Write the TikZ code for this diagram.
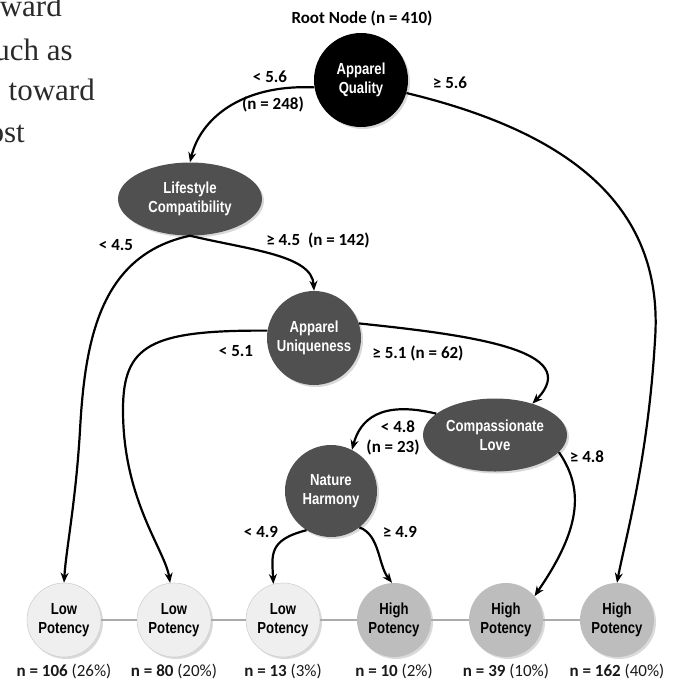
\documentclass[tikz,border=0pt]{standalone}
\usepackage{fontspec}
\setmainfont{Carlito}
\newfontfamily\nodefont[FakeStretch=0.82]{Liberation Sans}
\newfontfamily\bodyfont{Liberation Serif}
\usetikzlibrary{shapes.geometric,arrows.meta,shadows}

\definecolor{darknode}{HTML}{505050}
\definecolor{lowfill}{HTML}{EFEFEF}
\definecolor{highfill}{HTML}{BDBDBD}
\definecolor{linkgray}{HTML}{ABABAB}
\definecolor{bodytext}{HTML}{2A2A2A}

\begin{document}
\begin{tikzpicture}[x=1pt,y=-1pt,
  shadowed/.style={drop shadow={shadow xshift=2pt,shadow yshift=-2pt,opacity=0.3}},
  nodetext/.style={font=\nodefont\bfseries\fontsize{16}{19}\selectfont},
  circnode/.style={circle, minimum size=94pt, inner sep=0pt, align=center, nodetext, text=white, fill=darknode, shadowed},
  ellnode/.style={ellipse, minimum width=144pt, minimum height=73pt, inner sep=0pt, align=center, nodetext, text=white, fill=darknode, shadowed},
  leaf/.style={circle, minimum size=74pt, inner sep=0pt, align=center, nodetext, text=black, shadowed},
  lowleaf/.style={leaf, fill=lowfill, draw=black!18, line width=0.6pt},
  highleaf/.style={leaf, fill=highfill},
  branch/.style={line width=2.2pt, -{Stealth[length=10pt,width=8pt]}},
  lbl/.style={font=\bfseries\fontsize{17}{20}\selectfont, inner sep=0pt},
  count/.style={font=\fontsize{17}{20}\selectfont, inner sep=0pt, text=black!90},
  link/.style={draw=linkgray, line width=2.5pt},
  body/.style={font=\bodyfont\fontsize{31}{36}\selectfont, text=bodytext, inner sep=0pt, anchor=base east}
]
\useasboundingbox (0,0) rectangle (688,683);

% cut-off body text at top left
\begin{scope}
  \clip (0,0) rectangle (130,160);
  \node[body] (t1) at (62,16) {ward};
  \node[body] (t2) at (73,60) {uch as};
  \node[body] (t3) at (95,100) {toward};
  \node[body] (t4) at (25,142) {ost};
\end{scope}

% title
\node[lbl] (title) at (362,18) {Root Node (n = 410)};

% internal nodes
\node[circnode, fill=black] (aq) at (361,80) {Apparel\\Quality};
\node[ellnode] (lc) at (190,199) {Lifestyle\\Compatibility};
\node[circnode] (au) at (314,338) {Apparel\\Uniqueness};
\node[ellnode] (cl) at (495,435) {Compassionate\\Love};
\node[circnode, minimum size=92pt] (nh) at (331,491) {Nature\\Harmony};

% leaves
\node[lowleaf] (lp1) at (64,620) {Low\\Potency};
\node[lowleaf] (lp2) at (174,620) {Low\\Potency};
\node[lowleaf] (lp3) at (283,620) {Low\\Potency};
\node[highleaf] (hp1) at (394,620) {High\\Potency};
\node[highleaf] (hp2) at (506,620) {High\\Potency};
\node[highleaf] (hp3) at (617,620) {High\\Potency};

% links between leaves
\draw[link] (lp1.east) -- (lp2.west);
\draw[link] (lp2.east) -- (lp3.west);
\draw[link] (lp3.east) -- (hp1.west);
\draw[link] (hp1.east) -- (hp2.west);
\draw[link] (hp2.east) -- (hp3.west);

% counts
\node[count] (c1) at (64,671) {\textbf{n = 106} (26\%)};
\node[count] (c2) at (174,671) {\textbf{n = 80} (20\%)};
\node[count] (c3) at (283,671) {\textbf{n = 13} (3\%)};
\node[count] (c4) at (394,671) {\textbf{n = 10} (2\%)};
\node[count] (c5) at (506,671) {\textbf{n = 39} (10\%)};
\node[count] (c6) at (617,671) {\textbf{n = 162} (40\%)};

% branches
\draw[branch] (aq.189) .. controls (240,84) and (200,120) .. (lc.north);
\draw[branch] (aq.-16) .. controls (560,130) and (665,200) .. (655,340)
                       .. controls (648,460) and (625,540) .. (hp3.north);
\draw[branch] (lc.south) .. controls (100,255) and (85,340) .. (80,430)
                         .. controls (76,500) and (66,550) .. (lp1.north);
\draw[branch] (lc.south) .. controls (250,250) and (312,255) .. (au.north);
\draw[branch] (au.171) .. controls (150,330) and (123,345) .. (123,410)
                       .. controls (123,500) and (165,550) .. (lp2.96);
\draw[branch] (au.18) .. controls (470,335) and (585,350) .. (cl.40);
\draw[branch] (cl.160) .. controls (380,400) and (360,420) .. (nh.63);
\draw[branch] (cl.-15) .. controls (585,490) and (580,530) .. (hp2.40);
\draw[branch] (nh.-122) .. controls (268,540) and (272,555) .. (lp3.105);
\draw[branch] (nh.-52) .. controls (380,535) and (378,565) .. (hp1.93);

% branch labels
\node[lbl] (l1) at (270,77) {< 5.6};
\node[lbl] (l2) at (273,104) {(n = 248)};
\node[lbl] (l3) at (450,83) {≥ 5.6};
\node[lbl] (l4) at (116,245) {< 4.5};
\node[lbl] (l5) at (318,240) {≥ 4.5\ \ (n = 142)};
\node[lbl] (l6) at (236,351) {< 5.1};
\node[lbl] (l7) at (418,353) {≥ 5.1 (n = 62)};
\node[lbl] (l8) at (398,427) {< 4.8};
\node[lbl] (l9) at (393,447) {(n = 23)};
\node[lbl] (l10) at (587,457) {≥ 4.8};
\node[lbl] (l11) at (261,532) {< 4.9};
\node[lbl] (l12) at (400,532) {≥ 4.9};
\end{tikzpicture}
\end{document}
